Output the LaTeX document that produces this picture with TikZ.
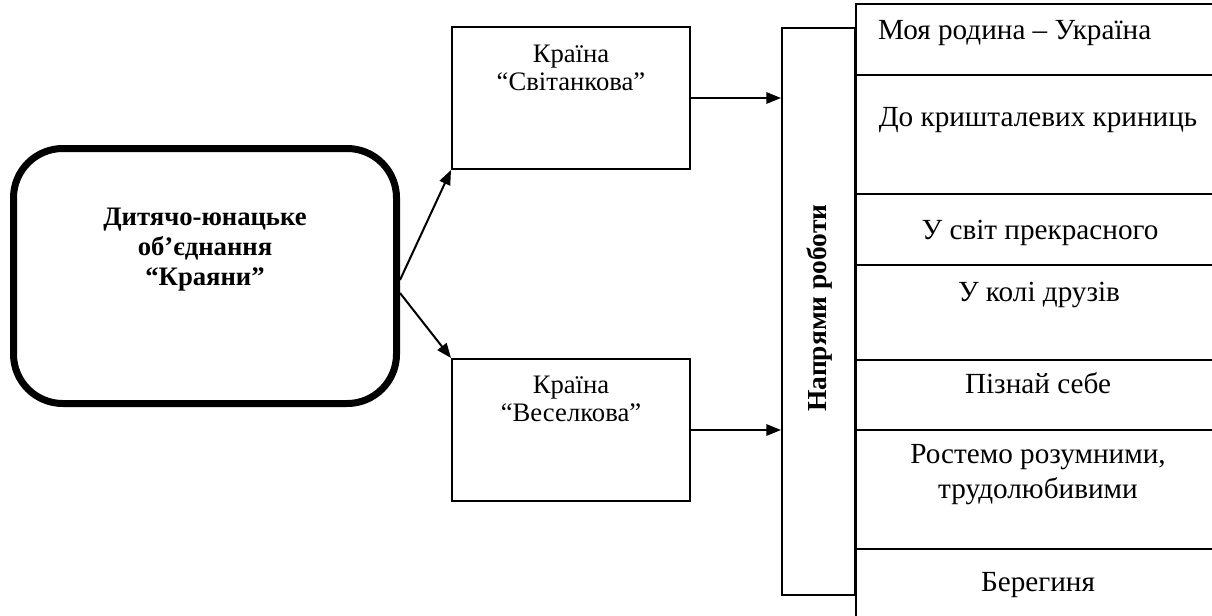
\documentclass[tikz,border=0pt]{standalone}
\usepackage{fontspec}
\setmainfont{Liberation Serif}
\usetikzlibrary{arrows.meta}
\begin{document}
\begin{tikzpicture}[x=0.75pt,y=-0.75pt,
  line width=1.5pt,
  arr/.style={-{Triangle[length=11pt,width=8.5pt]}},
  box/.style={draw,rectangle,inner sep=0pt},
  midtxt/.style={align=center,font=\fontsize{20}{20.5}\selectfont,inner sep=0pt},
  rowtxt/.style={align=center,font=\fontsize{21.9}{26.2}\selectfont,inner sep=0pt},
  rowbox/.style={draw,rectangle,inner sep=0pt,anchor=north west,minimum width=274.5pt}
]
\useasboundingbox (0,0) rectangle (1212,615);
\clip (0,0) rectangle (1212,615);
% big rounded box
\node[draw,rectangle,rounded corners=37pt,line width=5.25pt,minimum width=287.25pt,minimum height=191.25pt,inner sep=0pt] (big) at (205,276) {};
\node[align=center,font=\bfseries\fontsize{20}{22.5}\selectfont,inner sep=0pt] (bigtxt) at (205,250) {Дитячо-юнацьке\\об’єднання\\“Краяни”};
% middle boxes
\node[box,minimum width=178.5pt,minimum height=106.5pt] (up) at (571,98) {};
\node[midtxt] (uptxt) at (571,68) {Країна\\“Світанкова”};
\node[box,minimum width=178.5pt,minimum height=106.5pt] (low) at (571,430) {};
\node[midtxt] (lowtxt) at (571,399) {Країна\\“Веселкова”};
% direction column
\node[box,minimum width=54.75pt,minimum height=425.25pt] (dir) at (818.5,311.5) {};
\node[rotate=90,font=\bfseries\fontsize{20.6}{24}\selectfont,inner sep=0pt] (dirtxt) at (820,308) {Напрями роботи};
% right rows
\node[rowbox,minimum height=53.25pt] (r1) at (855,3) {};
\node[rowbox,minimum height=89.25pt] (r2) at (855,74) {};
\node[rowbox,minimum height=53.25pt] (r3) at (855,193) {};
\node[rowbox,minimum height=71.25pt] (r4) at (855,264) {};
\node[rowbox,minimum height=52.5pt] (r5) at (855,359) {};
\node[rowbox,minimum height=89.25pt] (r6) at (855,429) {};
\node[rowbox,minimum height=69pt] (r7) at (855,548) {};
\node[rowtxt,anchor=west] (t1) at (877,33) {Моя родина – Україна};
\node[rowtxt] (t2) at (1038,120) {До кришталевих криниць};
\node[rowtxt] (t3) at (1040,233) {У світ прекрасного};
\node[rowtxt] (t4) at (1039,295) {У колі друзів};
\node[rowtxt] (t5) at (1038,383) {Пізнай себе};
\node[rowtxt] (t6) at (1038,475) {Ростемо розумними,\\трудолюбивими};
\node[rowtxt] (t7) at (1038,585) {Берегиня};
% connectors
\draw[arr] ([yshift=-3pt]big.east) -- (up.south west);
\draw[arr] ([yshift=-12.75pt]big.east) -- (low.north west);
\draw[arr] (up.east) -- (up.east -| dir.west);
\draw[arr] (low.east) -- (low.east -| dir.west);
\end{tikzpicture}
\end{document}
